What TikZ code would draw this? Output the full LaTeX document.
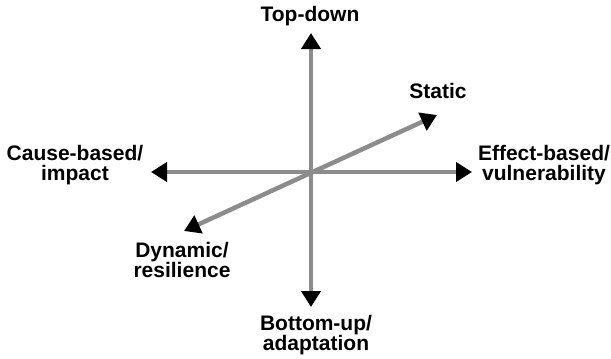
\documentclass[tikz,border=0pt]{standalone}
\usepackage{fontspec}
\setmainfont{Liberation Sans}
\usetikzlibrary{arrows.meta}
\definecolor{axisgray}{RGB}{140,140,140}
\tikzset{
  axis/.style={draw=axisgray, line width=4.5pt,
    {Triangle[width=19pt,length=16pt,color=black]}-{Triangle[width=19pt,length=16pt,color=black]}},
  lbl/.style={font=\bfseries\fontsize{21}{20}\selectfont, align=center, inner sep=0pt, anchor=base}
}
\begin{document}
\begin{tikzpicture}[x=1pt,y=-1pt]
\useasboundingbox (0,0) rectangle (611,359);
\coordinate (top) at (311,33);
\coordinate (bottom) at (311,307);
\coordinate (left) at (151,172);
\coordinate (right) at (472,172);
\coordinate (static) at (437,115);
\coordinate (dynamic) at (184,231);
\draw[axis] (bottom) -- (top);
\draw[axis] (left) -- (right);
\draw[axis] (dynamic) -- (static);
% base anchor of two-line labels sits on the last line
\node[lbl] (topdown) at (310,21) {Top-down};
\node[lbl] (staticlbl) at (438,98) {Static};
\node[lbl] (cause) at (75,180) {Cause-based/\\impact};
\node[lbl] (effect) at (544,180) {Effect-based/\\vulnerability};
\node[lbl] (dyn) at (182,277) {Dynamic/\\resilience};
\node[lbl] (bottomup) at (316,350) {Bottom-up/\\adaptation};
\end{tikzpicture}
\end{document}
